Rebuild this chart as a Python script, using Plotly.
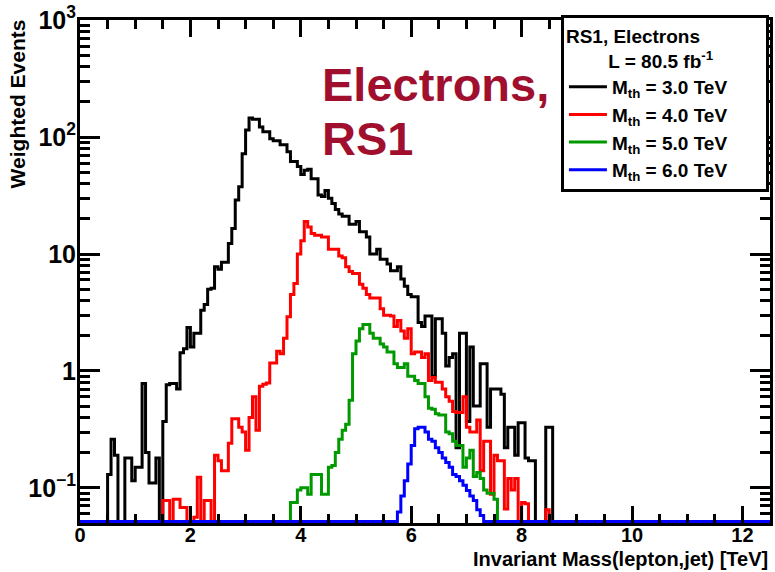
import numpy as np
import plotly.graph_objects as go

# ---------------- data ----------------
N_BINS = 200
X_MIN, X_MAX = 0.0, 12.5
Y_MIN, Y_MAX = 0.05, 1000.0

series_names = ["M<sub>th</sub> = 3.0 TeV", "M<sub>th</sub> = 4.0 TeV",
                "M<sub>th</sub> = 5.0 TeV", "M<sub>th</sub> = 6.0 TeV"]
series_colors = ["#000000", "#ff0000", "#009900", "#0000ff"]

# first bin lower edge (TeV) of each series, followed by consecutive bin contents
black_start = 0.5
black_vals = [0.13, 0.26, 0.19, 0, 0, 0.18, 0.18, 0.115, 0.15, 0.15,
              0.78, 0.2, 0.11, 0.11, 0.18, 0, 0.37, 0.76, 0.78, 0.78,
              0.7, 1.43, 1.55, 2.35, 1.6, 2.1, 2.1, 3.3, 3.7, 5.0,
              5.1, 7.8, 7.4, 8.5, 8.5, 12.3, 16.5, 29, 37.7, 72,
              115, 146, 142, 142, 122, 111, 111, 97, 93, 93,
              86, 86, 75, 62, 62, 56, 48, 52, 53, 44,
              44, 32, 31, 35, 30, 27, 24, 22, 21, 21,
              18, 18, 19, 15.5, 15.5, 14, 10, 10, 11, 9,
              9, 8.2, 7.2, 7.2, 7.8, 6.1, 5.3, 4.5, 4.3, 4.3,
              2.6, 2.4, 2.95, 2.95, 0.9, 2.8, 2.8, 2.1, 1.1, 1.3,
              1.4, 0.22, 2.1, 2.1, 0.37, 1.6, 0.5, 0.5, 1.15, 1.15,
              0.33, 0.7, 0.7, 0.7, 0.63, 0.22, 0.33, 0.33, 0.19, 0.36,
              0.36, 0.18, 0.17, 0.17, 0, 0, 0, 0.33, 0.33]

red_start = 1.5
red_vals = [0.078, 0.078, 0, 0.08, 0.08, 0.068, 0.068, 0, 0, 0.056,
            0.123, 0, 0.078, 0.078, 0, 0.19, 0.17, 0.14, 0.14, 0.24,
            0.39, 0.39, 0.33, 0.30, 0.21, 0.40, 0.6, 0.31, 0.74, 0.77,
            0.79, 1.17, 1.17, 1.47, 1.4, 1.9, 2.9, 4.5, 5.6, 10,
            13, 19, 17, 15, 14.5, 14.5, 14, 14, 11, 11,
            11, 9.6, 9.3, 7.8, 7.1, 6.8, 6.8, 5.5, 5.1, 4.5,
            4.2, 4.2, 4.2, 3.4, 3.0, 3.0, 2.95, 2.4, 2.7, 2.2,
            1.9, 2.3, 1.4, 1.45, 1.45, 1.3, 1.4, 0.83, 0.88, 0.8,
            0.8, 0.7, 0.6, 0.55, 0.45, 0.44, 0.44, 0.6, 0.33, 0.3,
            0.3, 0.38, 0.14, 0.25, 0.25, 0.088, 0.19, 0.17, 0.17, 0.066,
            0.12, 0.096, 0.12, 0, 0.075, 0.073, 0, 0, 0, 0,
            0, 0.065]

green_start = 3.8125
green_vals = [0.075, 0.075, 0.096, 0.1, 0.1, 0.088, 0.13, 0.13, 0.13, 0.088,
              0.088, 0.15, 0.155, 0.2, 0.26, 0.31, 0.35, 0.56, 1.4, 1.8,
              2.3, 2.5, 2.5, 2.1, 1.9, 1.9, 1.7, 1.6, 1.45, 1.45,
              1.15, 1.07, 1.07, 1.15, 0.9, 0.9, 0.83, 0.78, 0.78, 0.6,
              0.48, 0.47, 0.43, 0.42, 0.42, 0.3, 0.29, 0.25, 0.23, 0.23,
              0.15, 0.18, 0.21, 0.125, 0.135, 0.12, 0.096, 0.09, 0.09, 0.08]

blue_start = 5.75
blue_vals = [0.062, 0.085, 0.115, 0.16, 0.23, 0.32, 0.33, 0.33, 0.3, 0.26,
             0.25, 0.22, 0.2, 0.18, 0.165, 0.15, 0.13, 0.125, 0.115, 0.105,
             0.095, 0.085, 0.078, 0.065, 0.058]

legend_header = "RS1, Electrons"
lumi_text = "L = 80.5 fb<sup>-1</sup>"
big_label_lines = ["Electrons,", "RS1"]
x_title = "Invariant Mass(lepton,jet) [TeV]"
y_title = "Weighted Events"

# ---------------- build histograms ----------------
bin_w = (X_MAX - X_MIN) / N_BINS
edges = X_MIN + np.arange(N_BINS + 1) * bin_w
log_lo, log_hi = float(np.log10(Y_MIN)), float(np.log10(Y_MAX)) + 0.002
floor_val = 10 ** (log_lo + 0.012)   # empty bins drawn on the frame bottom (ROOT style)


def full_hist(start, vals):
    arr = np.zeros(N_BINS)
    i0 = int(round((start - X_MIN) / bin_w))
    arr[i0:i0 + len(vals)] = vals
    return arr


hists = [full_hist(black_start, black_vals), full_hist(red_start, red_vals),
         full_hist(green_start, green_vals), full_hist(blue_start, blue_vals)]

FONT = "Liberation Sans, Arial, Helvetica, sans-serif"

fig = go.Figure()
for h, name, col in zip(hists, series_names, series_colors):
    y = np.where(h > 0, h, floor_val)
    y = np.append(y, y[-1])
    fig.add_trace(go.Scatter(x=edges, y=y, mode="lines", name=name,
                             line=dict(color=col, width=3, shape="hv")))

fig.update_layout(
    width=775, height=572,
    margin=dict(l=80, r=2, t=18, b=49),
    paper_bgcolor="white", plot_bgcolor="white",
    font=dict(family=FONT, color="black"),
    showlegend=True,
    legend=dict(
        x=0.697, y=1.009, xanchor="left", yanchor="top",
        bordercolor="black", borderwidth=3, bgcolor="white",
        font=dict(family=FONT, size=19, color="black", weight="bold"),
        title=dict(text=legend_header + "\u00a0" * 12 + "<br>" + "\u00a0" * 8 + lumi_text,
                   font=dict(family=FONT, size=19, color="black", weight="bold")),
        tracegroupgap=0, itemwidth=38,
    ),
)

tickfont = dict(family=FONT, size=20, color="black", weight="bold")
fig.update_layout(
    xaxis=dict(range=[X_MIN, X_MAX], tick0=0, dtick=2,
               ticks="inside", ticklen=17, tickwidth=3, tickcolor="black",
               minor=dict(dtick=0.5, ticks="inside", ticklen=9, tickwidth=3,
                          tickcolor="black", showgrid=False),
               showline=True, linewidth=3, linecolor="black", mirror="allticks",
               showgrid=False, zeroline=False, tickfont=tickfont, ticklabelstandoff=-8),
    yaxis=dict(type="log", range=[log_lo, log_hi], dtick=1, exponentformat="power",
               ticks="inside", ticklen=20, tickwidth=3, tickcolor="black",
               minor=dict(dtick="D1", ticks="inside", ticklen=10, tickwidth=3,
                          tickcolor="black", showgrid=False),
               showline=True, linewidth=3, linecolor="black", mirror="allticks",
               showgrid=False, zeroline=False, tickfont=tickfont, ticklabelstandoff=-3),
)

# axis titles (ROOT style: right / top aligned)
fig.add_annotation(text=x_title, xref="paper", yref="paper", x=1.0, y=-0.045,
                   xanchor="right", yanchor="top", showarrow=False,
                   font=dict(family=FONT, size=20, color="black", weight="bold"))
fig.add_annotation(text=y_title, xref="paper", yref="paper", x=-0.09, y=1.006,
                   xanchor="center", yanchor="top", textangle=-90, showarrow=False,
                   font=dict(family=FONT, size=21, color="black", weight="bold"))

# big label
big_col = "#a0102e"
fig.add_annotation(text=big_label_lines[0], xref="paper", yref="paper", x=0.348, y=0.872,
                   xanchor="left", yanchor="middle", showarrow=False,
                   font=dict(family=FONT, size=47, color=big_col, weight="bold"))
fig.add_annotation(text=big_label_lines[1], xref="paper", yref="paper", x=0.348, y=0.764,
                   xanchor="left", yanchor="middle", showarrow=False,
                   font=dict(family=FONT, size=47, color=big_col, weight="bold"))

fig.write_html("out.html")
